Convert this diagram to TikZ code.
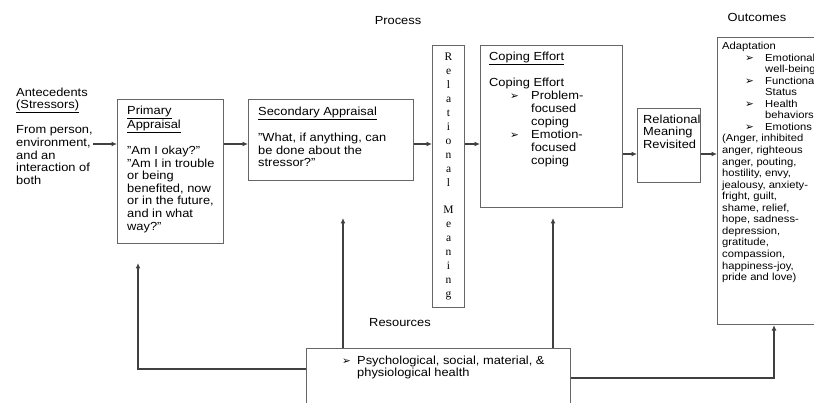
\documentclass[tikz,border=0pt]{standalone}
\usepackage{fontspec}
\setmainfont[FakeStretch=1.1]{Liberation Sans}
\newfontfamily\letterfont{Liberation Serif}
\newfontfamily\arrowfont{DejaVu Sans}
\usetikzlibrary{arrows.meta}
\usetikzlibrary{calc}
\newcommand{\bul}{{\arrowfont\fontsize{10.5}{10}\selectfont\char"27A2}}
\newcommand{\qt}{\char"22\relax}

\tikzset{
    box/.style={draw=gray!80!black, line width=1.1pt, rectangle, anchor=north west, inner sep=0pt},
    txt/.style={anchor=north west, align=left, inner sep=0pt},
    arr/.style={draw=black!75, line width=1.1pt, -{Latex[length=5.5pt,width=5pt]}},
}

\begin{document}
\begin{tikzpicture}[x=1pt, y=-1pt, font=\fontsize{11.7}{12.6}\selectfont]
        \useasboundingbox (0,0) rectangle (814,403);
        \clip (0,0) rectangle (814,403);
        % Headings
        \node (proc) at (398,21) {Process};
        \node (outc) at (757,17) {Outcomes};
        \node (resl) at (400,323) {Resources};
        % Boxes
        \node[box, minimum width=106, minimum height=144] (prim) at (117,99) {};
        \node[box, minimum width=165, minimum height=81] (sec) at (248,99) {};
        \node[box, minimum width=32, minimum height=262, align=center,
              font=\letterfont\fontsize{11.5}{13.9}\selectfont] (rm) at (432,45)
            {R\\e\\l\\a\\t\\i\\o\\n\\a\\l\\[13.9pt]M\\e\\a\\n\\i\\n\\g};
        \node[box, minimum width=142, minimum height=162] (cope) at (480,45) {};
        \node[box, minimum width=63, minimum height=74] (rmr) at (637,108) {};
        \node[box, minimum width=120, minimum height=287] (out) at (717,37) {};
        \node[box, minimum width=264, minimum height=70] (res) at (306,348) {};
        % Texts
        \node[txt] (ante) at (16,87.5) {Antecedents\\\underline{(Stressors)}\\[12.6pt]From person,\\environment,\\and an\\interaction of\\both};
        \node[txt] (primtxt) at (127,105.5) {\underline{Primary}\\\underline{Appraisal}\\[12.6pt]\qt Am I okay?\qt\\\qt Am I in trouble\\or being\\benefited, now\\or in the future,\\and in what\\way?\qt};
        \node[txt] (sectxt) at (258,106.5) {\underline{Secondary Appraisal}\\[12.6pt]\qt What, if anything, can\\be done about the\\stressor?\qt};
        \node[txt, font=\fontsize{11.7}{12.9}\selectfont] (copetxt) at (489,51.5) {\underline{Coping Effort}\\[12.9pt]Coping Effort\\
            \hspace*{21pt}\makebox[21pt][l]{\bul}Problem-\\\hspace*{42pt}focused\\\hspace*{42pt}coping\\
            \hspace*{21pt}\makebox[21pt][l]{\bul}Emotion-\\\hspace*{42pt}focused\\\hspace*{42pt}coping};
        \node[txt] (rmrtxt) at (643,114.5) {Relational\\Meaning\\Revisited};
        \node[txt, font=\fontsize{10.2}{11.55}\selectfont] (outtxt) at (722,42) {Adaptation\\
            \hspace*{23pt}\makebox[20pt][l]{\bul}Emotional\\\hspace*{43pt}well-being\\
            \hspace*{23pt}\makebox[20pt][l]{\bul}Functional\\\hspace*{43pt}Status\\
            \hspace*{23pt}\makebox[20pt][l]{\bul}Health\\\hspace*{43pt}behaviors\\
            \hspace*{23pt}\makebox[20pt][l]{\bul}Emotions\\
            (Anger, inhibited\\anger, righteous\\anger, pouting,\\hostility, envy,\\jealousy, anxiety-\\fright, guilt,\\shame, relief,\\hope, sadness-\\depression,\\gratitude,\\compassion,\\happiness-joy,\\pride and love)};
        \node[txt] (restxt) at (342,355.5) {\makebox[15pt][l]{\bul}Psychological, social, material, \&\\\hspace*{15pt}physiological health};
        % Arrows along the process
        \coordinate (row) at (0,144);
        \coordinate (row2) at (0,154);
        \foreach \a/\b in {ante/prim, prim/sec, sec/rm, rm/cope} {
            \draw[arr] (\a.east |- row) -- (\b.west |- row);
        }
        \foreach \a/\b in {cope/rmr, rmr/out} {
            \draw[arr] (\a.east |- row2) -- (\b.west |- row2);
        }
        % Arrows from resources
        \coordinate (up1) at (343,218);
        \coordinate (up2) at (553,218);
        \coordinate (up3) at (138,263);
        \coordinate (up4) at (774,0);
        \coordinate (lrow) at (0,369);
        \coordinate (rrow) at (0,378);
        \draw[arr] (res.north -| up1) -- (up1);
        \draw[arr] (res.north -| up2) -- (up2);
        \draw[arr] (res.west |- lrow) -| (up3);
        \draw[arr] (res.east |- rrow) -| (out.south -| up4);
\end{tikzpicture}
\end{document}
